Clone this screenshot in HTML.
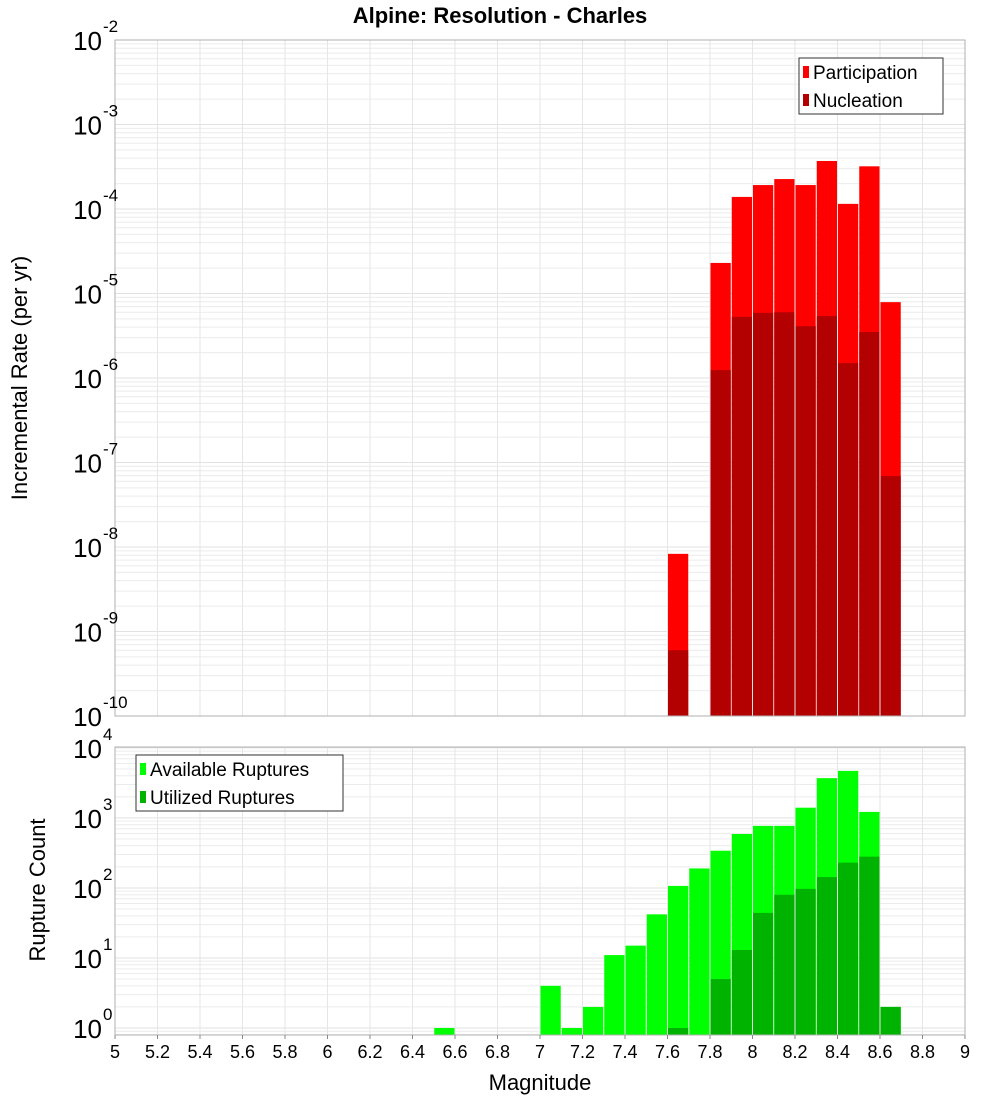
<!DOCTYPE html>
<html><head><meta charset="utf-8"><style>
html,body{margin:0;padding:0;background:#fff;}
svg{display:block;font-family:"Liberation Sans","DejaVu Sans",sans-serif;}
</style></head><body>
<svg id="c" width="1000" height="1100" xmlns="http://www.w3.org/2000/svg">
<text x="500" y="23" text-anchor="middle" font-size="22" font-weight="bold">Alpine: Resolution - Charles</text>
<text transform="translate(27,378) rotate(-90)" text-anchor="middle" font-size="22">Incremental Rate (per yr)</text>
<text transform="translate(45,890) rotate(-90)" text-anchor="middle" font-size="22">Rupture Count</text>
<text x="540" y="1090" text-anchor="middle" font-size="22">Magnitude</text>
<g id="top-panel"></g><g id="bottom-panel"></g>
</svg>
<script>
const binCenters = [7.65,7.85,7.95,8.05,8.15,8.25,8.35,8.45,8.55,8.65];
const participation = [8.3e-9,2.3e-5,1.39e-4,1.92e-4,2.26e-4,1.92e-4,3.7e-4,1.15e-4,3.2e-4,7.9e-6];
const nucleation = [6.0e-10,1.24e-6,5.3e-6,5.9e-6,6.0e-6,4.1e-6,5.4e-6,1.5e-6,3.5e-6,6.9e-8];
const countCenters = [6.55,7.05,7.15,7.25,7.35,7.45,7.55,7.65,7.75,7.85,7.95,8.05,8.15,8.25,8.35,8.45,8.55,8.65];
const available = [1,4,1,2,11,15,42,107,190,340,590,770,770,1400,3700,4700,1220,2];
const utilized = [0,0,0,0,0,0,0,1,0,5,13,44,80,97,143,230,280,2];
const xTicks = [5,5.2,5.4,5.6,5.8,6,6.2,6.4,6.6,6.8,7,7.2,7.4,7.6,7.8,8,8.2,8.4,8.6,8.8,9];

const NS="http://www.w3.org/2000/svg";
const X0=115,X1=965;
function xs(m){return X0+(m-5)/4*(X1-X0);}
const T={top:40,bot:716,lo:-10,hi:-2};
const B={top:747,bot:1035,lo:-0.1,hi:4.013};
function ys(P,v){return P.bot-(Math.log10(v)-P.lo)/(P.hi-P.lo)*(P.bot-P.top);}
function el(p,tag,a){const e=document.createElementNS(NS,tag);for(const k in a)e.setAttribute(k,a[k]);p.appendChild(e);return e;}

function panel(g,P){
  el(g,'rect',{x:X0,y:P.top,width:X1-X0,height:P.bot-P.top,fill:'#fff'});
  for(let d=Math.floor(P.lo);d<=Math.ceil(P.hi);d++){for(let k=1;k<10;k++){
    const v=k*Math.pow(10,d);const lv=Math.log10(v);if(lv<P.lo||lv>P.hi)continue;
    const y=ys(P,v);el(g,'line',{x1:X0,x2:X1,y1:y,y2:y,stroke:k==1?'#e2e2e2':'#ececec','stroke-width':1});}}
  xTicks.forEach(t=>{const x=xs(t);el(g,'line',{x1:x,x2:x,y1:P.top,y2:P.bot,stroke:'#e6e6e6'});});
}
function bars(g,P,centers,vals,color,nm){
  centers.forEach((c,i)=>{const v=vals[i];if(!(v>0))return;const x=xs(c-0.05)+0.5,w=xs(c+0.05)-xs(c-0.05)-1;const y=ys(P,v);
    const r=el(g,'rect',{x:x,y:y,width:w,height:P.bot-y,fill:color});
    
    });
}
function frame(g,P){el(g,'rect',{x:X0,y:P.top,width:X1-X0,height:P.bot-P.top,fill:'none',stroke:'#b0b0b0'});}
function ylabels(g,P,exps){exps.forEach(e=>{const y=ys(P,Math.pow(10,e));
  const t=el(g,'text',{x:102,y:y+10,'text-anchor':'end','font-size':26});
  t.textContent='10';
  
  
  const s=el(g,'text',{x:103,y:y-8,'font-size':17});s.textContent=String(e);});}
function legend(g,x,y,w,items){
  el(g,'rect',{x:x,y:y,width:w,height:56,fill:'#fff',stroke:'#333'});
  items.forEach((it,i)=>{const yy=y+14+i*28;el(g,'rect',{x:x+4,y:yy-6,width:6,height:12,fill:it[1]});
    const t=el(g,'text',{x:x+14,y:yy+7,'font-size':19});t.textContent=it[0];
    
    });
}
const gTop=document.getElementById('top-panel'),gBot=document.getElementById('bottom-panel');
panel(gTop,T);bars(gTop,T,binCenters,participation,'#ff0000','participation-bar');bars(gTop,T,binCenters,nucleation,'#b30000','nucleation-bar');frame(gTop,T);
ylabels(gTop,T,[-2,-3,-4,-5,-6,-7,-8,-9,-10]);
legend(gTop,799,58,144,[['Participation','#ff0000'],['Nucleation','#b30000']]);
panel(gBot,B);bars(gBot,B,countCenters,available,'#00ff00','available-bar');bars(gBot,B,countCenters,utilized,'#00b300','utilized-bar');frame(gBot,B);
ylabels(gBot,B,[4,3,2,1,0]);
legend(gBot,136,755,207,[['Available Ruptures','#00ff00'],['Utilized Ruptures','#00b300']]);
xTicks.forEach(t=>{const x=xs(t);el(gBot,'line',{x1:x,x2:x,y1:B.bot,y2:B.bot+4,stroke:'#888'});
  const tx=el(gBot,'text',{x:x,y:1058,'text-anchor':'middle','font-size':18});
  tx.textContent=String(t);
  
  });
</script>
</body></html>
